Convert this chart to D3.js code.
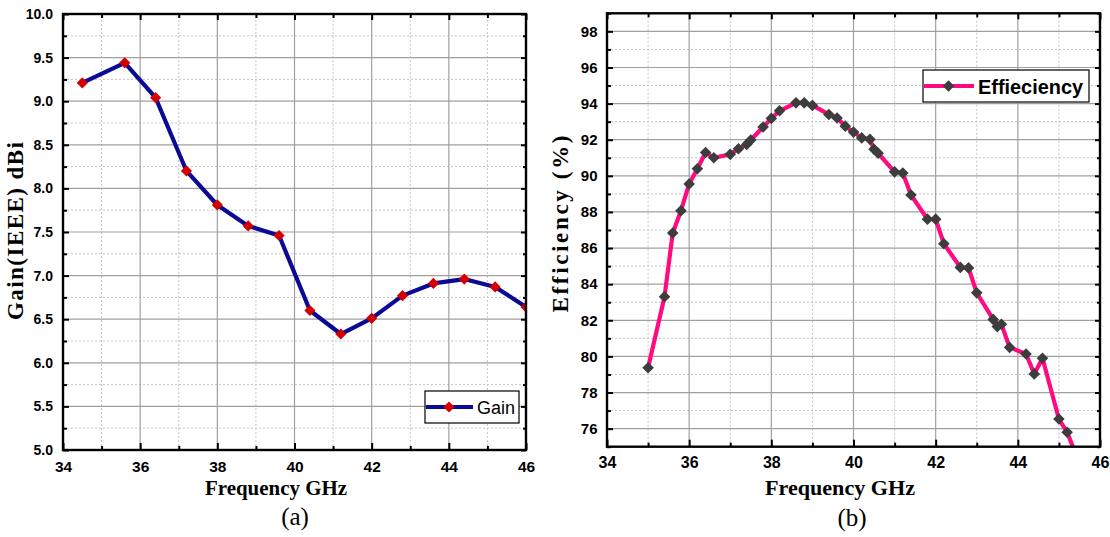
<!DOCTYPE html>
<html>
<head>
<meta charset="utf-8">
<script src="https://cdn.jsdelivr.net/npm/d3@7"></script>
<style>
  html, body { margin: 0; padding: 0; background: #fff; }
  svg { display: block; }
</style>
</head>
<body>
<svg id="chart" width="1110" height="537"></svg>
<script>
// ---------------- DATA ----------------
const gainFreq   = [34.5, 35.6, 36.4, 37.2, 38.0, 38.8, 39.6, 40.4, 41.2, 42.0, 42.8, 43.6, 44.4, 45.2, 46.0];
const gainValues = [9.21, 9.44, 9.04, 8.20, 7.81, 7.57, 7.46, 6.60, 6.33, 6.51, 6.77, 6.91, 6.96, 6.87, 6.64];

const effFreq   = [35.0, 35.4, 35.6, 35.8, 36.0, 36.2, 36.4, 36.6, 37.0, 37.2, 37.4, 37.5, 37.8, 38.0, 38.2,
                   38.6, 38.8, 39.0, 39.4, 39.6, 39.8, 40.0, 40.2, 40.4, 40.5, 40.6, 41.0, 41.2, 41.4, 41.8,
                   42.0, 42.2, 42.6, 42.8, 43.0, 43.4, 43.5, 43.6, 43.8, 44.2, 44.4, 44.6, 45.0, 45.2, 45.6];
const effValues = [79.37, 83.3, 86.83, 88.07, 89.55, 90.39, 91.29, 91.0, 91.19, 91.5, 91.74, 91.98, 92.7, 93.18, 93.6,
                   94.04, 94.04, 93.9, 93.4, 93.2, 92.75, 92.42, 92.1, 92.02, 91.47, 91.25, 90.22, 90.15, 88.94, 87.6,
                   87.6, 86.24, 84.93, 84.9, 83.52, 82.05, 81.65, 81.78, 80.5, 80.13, 79.03, 79.9, 76.53, 75.8, 73.5];

const freqTicks      = [34, 36, 38, 40, 42, 44, 46];
const freqMinorTicks = [35, 37, 39, 41, 43, 45];
const gainTicks      = [5.0, 5.5, 6.0, 6.5, 7.0, 7.5, 8.0, 8.5, 9.0, 9.5, 10.0];
const gainMinorTicks = [5.25, 5.75, 6.25, 6.75, 7.25, 7.75, 8.25, 8.75, 9.25, 9.75];
const effTicks       = [76, 78, 80, 82, 84, 86, 88, 90, 92, 94, 96, 98];
const effMinorTicks  = [75, 77, 79, 81, 83, 85, 87, 89, 91, 93, 95, 97, 99];

const gainLabel = "Gain";
const effLabel  = "Effieciency";

// ---------------- DRAW ----------------
const svg = d3.select("#chart");
svg.append("rect").attr("width", 1110).attr("height", 537).attr("fill", "#fff");

const diamond = (r) => `M0,${-r}L${r},0L0,${r}L${-r},0Z`;

function panel(cfg) {
  const g = svg.append("g");
  const x = d3.scaleLinear().domain([34, 46]).range([cfg.x0, cfg.x1]);
  const y = d3.scaleLinear().domain(cfg.yDomain).range([cfg.y0, cfg.y1]);

  // grid
  const grid = g.append("g");
  grid.selectAll(".mx").data(freqMinorTicks).join("line")
    .attr("x1", d => x(d)).attr("x2", d => x(d)).attr("y1", cfg.y0).attr("y2", cfg.y1)
    .attr("stroke", "#c4c4c4").attr("stroke-width", 1).attr("stroke-dasharray", "2,2");
  grid.selectAll(".my").data(cfg.yMinor).join("line")
    .attr("y1", d => y(d)).attr("y2", d => y(d)).attr("x1", cfg.x0).attr("x2", cfg.x1)
    .attr("stroke", "#c4c4c4").attr("stroke-width", 1).attr("stroke-dasharray", "2,2");
  grid.selectAll(".Mx").data(freqTicks).join("line")
    .attr("x1", d => x(d)).attr("x2", d => x(d)).attr("y1", cfg.y0).attr("y2", cfg.y1)
    .attr("stroke", "#a0a0a0").attr("stroke-width", 1.2);
  grid.selectAll(".My").data(cfg.yTicks).join("line")
    .attr("y1", d => y(d)).attr("y2", d => y(d)).attr("x1", cfg.x0).attr("x2", cfg.x1)
    .attr("stroke", "#a0a0a0").attr("stroke-width", 1.2);

  // axes
  const styleAxis = (sel, fs) => {
    sel.select(".domain").remove();
    sel.selectAll(".tick line").attr("stroke", "#000").attr("stroke-width", 2);
    sel.selectAll(".tick text").attr("fill", "#000")
      .attr("font-family", "'Liberation Sans', Arial, sans-serif")
      .attr("font-weight", "bold").attr("font-size", fs);
  };
  g.append("g").attr("transform", `translate(0,${cfg.y0})`)
    .call(d3.axisBottom(x).tickValues(freqTicks).tickSizeInner(-7).tickSizeOuter(0)
      .tickPadding(cfg.xPad).tickFormat(d3.format("d")))
    .call(s => styleAxis(s, cfg.xFont));
  g.append("g").attr("transform", `translate(0,${cfg.y0})`)
    .call(d3.axisBottom(x).tickValues(freqMinorTicks).tickSizeInner(-4).tickSizeOuter(0).tickFormat(""))
    .call(s => styleAxis(s, cfg.xFont));
  g.append("g").attr("transform", `translate(0,${cfg.y1})`)
    .call(d3.axisTop(x).tickValues(freqTicks).tickSizeInner(-6).tickSizeOuter(0).tickFormat(""))
    .call(s => styleAxis(s, cfg.xFont));
  g.append("g").attr("transform", `translate(0,${cfg.y1})`)
    .call(d3.axisTop(x).tickValues(freqMinorTicks).tickSizeInner(-4).tickSizeOuter(0).tickFormat(""))
    .call(s => styleAxis(s, cfg.xFont));
  g.append("g").attr("transform", `translate(${cfg.x0},0)`)
    .call(d3.axisLeft(y).tickValues(cfg.yTicks).tickSizeInner(-6).tickSizeOuter(0)
      .tickPadding(cfg.yPad).tickFormat(cfg.yFormat))
    .call(s => styleAxis(s, cfg.yFont));
  g.append("g").attr("transform", `translate(${cfg.x0},0)`)
    .call(d3.axisLeft(y).tickValues(cfg.yMinor).tickSizeInner(-4).tickSizeOuter(0).tickFormat(""))
    .call(s => styleAxis(s, cfg.yFont));
  g.append("g").attr("transform", `translate(${cfg.x1},0)`)
    .call(d3.axisRight(y).tickValues(cfg.yTicks).tickSizeInner(-5).tickSizeOuter(0).tickFormat(""))
    .call(s => styleAxis(s, cfg.yFont));
  g.append("g").attr("transform", `translate(${cfg.x1},0)`)
    .call(d3.axisRight(y).tickValues(cfg.yMinor).tickSizeInner(-3).tickSizeOuter(0).tickFormat(""))
    .call(s => styleAxis(s, cfg.yFont));

  // clip
  const clipId = "clip" + cfg.id;
  svg.append("defs").append("clipPath").attr("id", clipId)
    .append("rect").attr("x", cfg.x0).attr("y", cfg.y1)
    .attr("width", cfg.x1 - cfg.x0).attr("height", cfg.y0 - cfg.y1);

  const pts = cfg.xs.map((f, i) => [f, cfg.ys[i]]);
  const data = g.append("g").attr("clip-path", `url(#${clipId})`);
  data.append("path").datum(pts)
    .attr("d", d3.line().x(d => x(d[0])).y(d => y(d[1])).curve(cfg.curve))
    .attr("fill", "none").attr("stroke", cfg.lineColor).attr("stroke-width", 4.2)
    .attr("stroke-linejoin", "round");
  data.selectAll(".pt").data(pts).join("path")
    .attr("transform", d => `translate(${x(d[0])},${y(d[1])})`)
    .attr("d", diamond(cfg.markerR)).attr("fill", cfg.markerColor);

  // frame
  g.append("rect").attr("x", cfg.x0).attr("y", cfg.y1)
    .attr("width", cfg.x1 - cfg.x0).attr("height", cfg.y0 - cfg.y1)
    .attr("fill", "none").attr("stroke", "#000").attr("stroke-width", 2.4);

  // legend
  const L = cfg.legend;
  g.append("rect").attr("x", L.x).attr("y", L.y).attr("width", L.w).attr("height", L.h)
    .attr("fill", "#fff").attr("stroke", "#000").attr("stroke-width", 1.2);
  const ly = L.y + L.h / 2;
  g.append("line").attr("x1", L.x + 1).attr("x2", L.x + L.lineW).attr("y1", ly).attr("y2", ly)
    .attr("stroke", cfg.lineColor).attr("stroke-width", 4.2);
  g.append("path").attr("transform", `translate(${L.x + L.lineW / 2},${ly})`)
    .attr("d", diamond(cfg.markerR)).attr("fill", cfg.markerColor);
  g.append("text").attr("x", L.tx).attr("y", L.ty).text(L.text)
    .attr("font-family", "'Liberation Sans', Arial, sans-serif")
    .attr("font-weight", L.weight).attr("font-size", L.fs)
    .attr("textLength", L.tw).attr("lengthAdjust", "spacingAndGlyphs").attr("fill", "#000");

  // titles
  g.append("text").attr("x", cfg.xTitle[0]).attr("y", cfg.xTitle[1])
    .attr("text-anchor", "middle").text("Frequency GHz")
    .attr("font-family", "'Liberation Serif', 'Times New Roman', serif")
    .attr("font-weight", "bold").attr("font-size", cfg.xTitle[2])
    .attr("textLength", cfg.xTitle[3]).attr("lengthAdjust", "spacingAndGlyphs");
  g.append("text").attr("transform", `translate(${cfg.yTitle[0]},${cfg.yTitle[1]}) rotate(-90)`)
    .attr("text-anchor", "middle").text(cfg.yTitleText)
    .attr("font-family", "'Liberation Serif', 'Times New Roman', serif")
    .attr("font-weight", "bold").attr("font-size", cfg.yTitle[2])
    .attr("textLength", cfg.yTitle[3]).attr("lengthAdjust", "spacing");
  g.append("text").attr("x", cfg.caption[0]).attr("y", cfg.caption[1])
    .attr("text-anchor", "middle").text(cfg.captionText)
    .attr("font-family", "'Liberation Serif', 'Times New Roman', serif")
    .attr("font-size", 25);
}

panel({
  id: "a", x0: 63, x1: 526, y0: 450, y1: 14, yDomain: [5, 10],
  yTicks: gainTicks, yMinor: gainMinorTicks, yFormat: d3.format(".1f"),
  xPad: 11, yPad: 10, xFont: 15.5, yFont: 14,
  xs: gainFreq, ys: gainValues, curve: d3.curveLinear,
  lineColor: "#0a0a94", markerColor: "#d40000", markerR: 5.6,
  legend: { x: 425, y: 391, w: 94, h: 32, lineW: 48, text: gainLabel, tx: 477, ty: 413.5, fs: 18, tw: 38, weight: "normal" },
  xTitle: [276, 495, 21, 142], yTitle: [23, 231, 23, 178], yTitleText: "Gain(IEEE) dBi",
  caption: [295, 525], captionText: "(a)"
});

panel({
  id: "b", x0: 607, x1: 1100, y0: 446.7, y1: 13.3, yDomain: [75, 99],
  yTicks: effTicks, yMinor: effMinorTicks, yFormat: d3.format("d"),
  xPad: 10, yPad: 9.5, xFont: 16, yFont: 15,
  xs: effFreq, ys: effValues, curve: d3.curveLinear,
  lineColor: "#ff0a80", markerColor: "#3d3d3d", markerR: 5.8,
  legend: { x: 923, y: 70, w: 166, h: 32, lineW: 51, text: effLabel, tx: 978, ty: 93.5, fs: 21, tw: 105, weight: "bold" },
  xTitle: [840, 495, 22, 150], yTitle: [568, 224, 23, 177], yTitleText: "Efficiency (%)",
  caption: [852, 526], captionText: "(b)"
});
</script>
</body>
</html>
